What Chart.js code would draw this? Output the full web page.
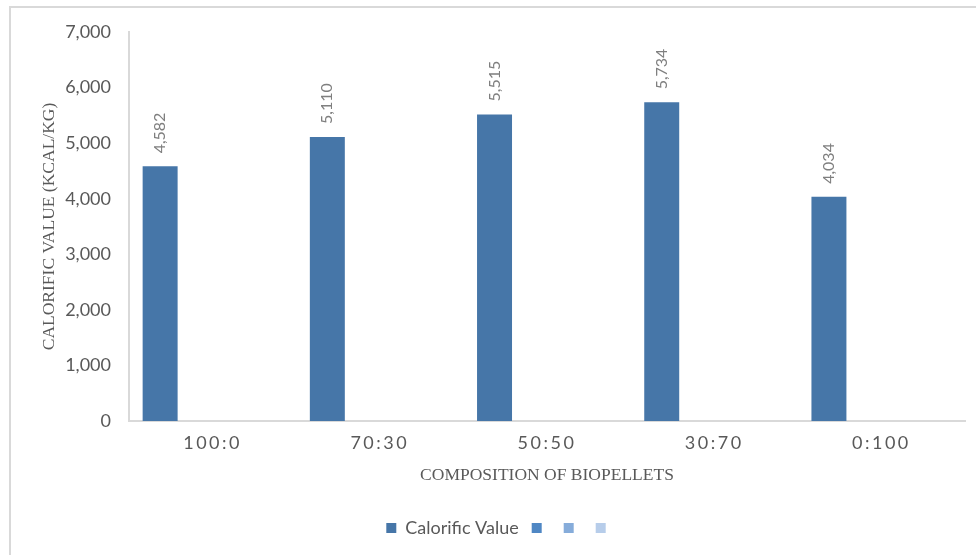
<!DOCTYPE html>
<html>
<head>
<meta charset="utf-8">
<script src="https://cdn.jsdelivr.net/npm/chart.js@4/dist/chart.umd.min.js"></script>
<style>
  html, body { margin: 0; padding: 0; background: #ffffff; }
  #wrap { position: relative; width: 976px; height: 555px; overflow: hidden; }
  #frame { position: absolute; left: 9px; top: 6px; right: -10px; bottom: -10px;
           border-left: 2px solid #d9d9d9; border-top: 2px solid #d9d9d9; }
  canvas { position: absolute; left: 0; top: 0; }
</style>
</head>
<body>
<div id="wrap">
  <div id="frame"></div>
  <canvas id="chart" width="976" height="555"></canvas>
</div>
<script>
// Biopellet blends (biomass : additive ratio)
const compositions = ['100:0', '70:30', '50:50', '30:70', '0:100'];
// Calorific value in kcal/kg for each blend
const calorificValues = [4582, 5110, 5515, 5734, 4034];
// Series shown in the legend (three placeholder series without labels or data)
const seriesLabels = ['Calorific Value', '', '', ''];
const seriesColors = ['#4676A8', '#4F87C4', '#86ACDA', '#B7CDEA'];

const TEXT_GRAY = '#595959';
const AXIS_GRAY = '#d9d9d9';

// Category axis whose tick labels are drawn with extra letter spacing
class SpacedCategoryScale extends Chart.CategoryScale {
  drawLabels(area) {
    const ctx = this.ctx;
    ctx.save();
    ctx.letterSpacing = '2.5px';
    super.drawLabels(area);
    ctx.restore();
  }
}
SpacedCategoryScale.id = 'spacedCategory';
SpacedCategoryScale.defaults = Chart.CategoryScale.defaults;
Chart.register(SpacedCategoryScale);

// Rotated value labels above each bar of the first series
const valueLabels = {
  id: 'valueLabels',
  afterDatasetsDraw(chart) {
    const ctx = chart.ctx;
    const meta = chart.getDatasetMeta(0);
    const values = chart.data.datasets[0].data;
    ctx.save();
    ctx.font = '16px Lato, "Open Sans", sans-serif';
    ctx.fillStyle = '#7f7f7f';
    ctx.textAlign = 'left';
    ctx.textBaseline = 'middle';
    meta.data.forEach((bar, i) => {
      const text = values[i].toLocaleString('en-US');
      ctx.save();
      ctx.translate(bar.x, bar.y - 13);
      ctx.rotate(-Math.PI / 2);
      ctx.fillText(text, 0, 0);
      ctx.restore();
    });
    ctx.restore();
  }
};

const datasets = seriesLabels.map((label, i) => ({
  label: label,
  data: i === 0 ? calorificValues : [],
  backgroundColor: seriesColors[i],
  borderWidth: 0,
  categoryPercentage: 4 / 4.78,
  barPercentage: 1.0
}));

new Chart(document.getElementById('chart'), {
  type: 'bar',
  data: { labels: compositions, datasets: datasets },
  options: {
    responsive: false,
    animation: false,
    layout: { padding: { left: 36, right: 11, top: 32, bottom: 8 } },
    plugins: {
      legend: {
        position: 'bottom',
        labels: {
          boxWidth: 10,
          boxHeight: 10,
          padding: 13,
          color: TEXT_GRAY,
          font: { family: 'Lato, "Open Sans", sans-serif', size: 18 }
        }
      },
      tooltip: { enabled: false }
    },
    scales: {
      x: {
        type: 'spacedCategory',
        grid: { display: false, drawTicks: false },
        border: { display: true, color: AXIS_GRAY, width: 2 },
        ticks: {
          color: TEXT_GRAY,
          padding: 11,
          maxRotation: 0,
          font: { family: 'Lato, "Open Sans", sans-serif', size: 18 }
        },
        title: {
          display: true,
          text: 'COMPOSITION OF BIOPELLETS',
          color: TEXT_GRAY,
          padding: { top: 0, bottom: 20 },
          font: { family: '"Liberation Serif", "Times New Roman", serif', size: 17.5 }
        },
        afterFit(scale) { scale.height = 85; }
      },
      y: {
        min: 0,
        max: 7000,
        grid: { display: false, drawTicks: false },
        border: { display: true, color: AXIS_GRAY, width: 2 },
        ticks: {
          stepSize: 1000,
          color: TEXT_GRAY,
          padding: 18,
          font: { family: 'Lato, "Open Sans", sans-serif', size: 18 },
          callback: (v) => Number(v).toLocaleString('en-US')
        },
        title: {
          display: true,
          text: 'CALORIFIC VALUE (KCAL/KG)',
          color: TEXT_GRAY,
          padding: { top: 3, bottom: 0 },
          font: { family: '"Liberation Serif", "Times New Roman", serif', size: 17.5 }
        },
        afterFit(scale) { scale.width = 93; }
      }
    }
  },
  plugins: [valueLabels]
});
</script>
</body>
</html>
